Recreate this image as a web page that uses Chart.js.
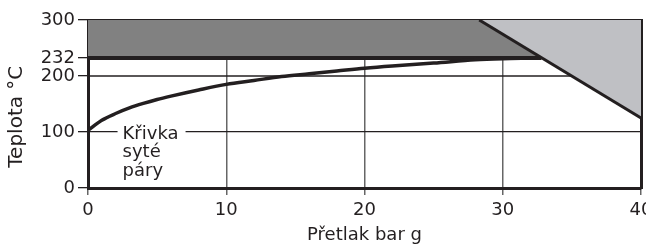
<!DOCTYPE html>
<html>
<head>
<meta charset="utf-8">
<script src="https://cdn.jsdelivr.net/npm/chart.js@4"></script>
<style>
  body { margin: 0; background: #fff; }
</style>
</head>
<body>
<canvas id="chart-1" width="646" height="246"></canvas>
<script>
// saturated steam curve (bar g -> °C)
const pressure = [0, 1, 2, 3, 4, 5, 6, 8, 10, 12, 14, 16, 18, 20, 22, 25, 28, 30, 32];
const satTemp = [103, 121, 133, 143, 151, 158, 164, 175, 185, 192, 199, 204, 209, 214, 218, 223, 229, 231, 232];

const xTicks = [0, 10, 20, 30, 40];
const yTicks = [0, 100, 200, 232, 300];

// upper limit 232 °C and the sloped pressure limit
const limitX = [0, 32.8];
const limitY = [232, 232];
const slopeX = [28.3, 40];
const slopeY = [300, 125];
const line200X = [0, 35];
const line200Y = [200, 200];

const curveLabel = ['Křivka', 'syté', 'páry'];
const curveLabelAt = [2.5, 100];

const ink = '#231f20';
const font = 'DejaVu Sans';

const pts = (xs, ys) => xs.map((x, i) => ({ x: x, y: ys[i] }));

const curveLabelPlugin = {
  id: 'curveLabel',
  afterDatasetsDraw(chart) {
    const { ctx, scales: { x, y } } = chart;
    const left = x.getPixelForValue(curveLabelAt[0]);
    const mid = y.getPixelForValue(curveLabelAt[1]);
    ctx.save();
    ctx.font = '18px "' + font + '"';
    const w = Math.max(...curveLabel.map(t => ctx.measureText(t).width));
    ctx.fillStyle = '#fff';
    ctx.fillRect(left - 5, mid - 10, w + 12, 56);
    ctx.fillStyle = ink;
    ctx.textBaseline = 'alphabetic';
    curveLabel.forEach((t, i) => ctx.fillText(t, left, mid + 6.5 + i * 18.5));
    ctx.restore();
  }
};

const ctx = document.getElementById('chart-1');

new Chart(ctx, {
  type: 'line',
  data: {
    datasets: [
      {
        data: pts(pressure, satTemp),
        borderColor: ink,
        borderWidth: 3.5,
        cubicInterpolationMode: 'monotone',
        pointRadius: 0,
        fill: false,
        order: 1
      },
      {
        data: pts(line200X, line200Y),
        borderColor: ink,
        borderWidth: 1.3,
        pointRadius: 0,
        fill: false,
        order: 2
      },
      {
        data: pts(slopeX, slopeY),
        borderColor: ink,
        borderWidth: 3,
        backgroundColor: '#bfc0c4',
        pointRadius: 0,
        fill: { value: 300 },
        order: 3
      },
      {
        data: pts(limitX, limitY),
        borderColor: ink,
        borderWidth: 4,
        backgroundColor: '#818181',
        pointRadius: 0,
        fill: { value: 300 },
        order: 4
      }
    ]
  },
  options: {
    responsive: false,
    animation: false,
    layout: { padding: { top: 20, right: 5, left: 0, bottom: 0 } },
    plugins: {
      legend: { display: false },
      tooltip: { enabled: false }
    },
    scales: {
      x: {
        type: 'linear',
        min: 0,
        max: 40,
        afterBuildTicks: s => { s.ticks = xTicks.map(v => ({ value: v })); },
        afterFit: s => { s.height = 58; s.paddingRight = 0; },
        ticks: { font: { family: font, size: 18 }, color: ink, padding: 5, maxRotation: 0, autoSkip: false },
        grid: { color: '#666', lineWidth: 1.5, tickColor: '#666', tickLength: 7 },
        border: { color: ink, width: 3 },
        title: { display: true, text: 'Přetlak bar g', font: { family: font, size: 18 }, color: ink, padding: 0 }
      },
      y: {
        min: 0,
        max: 300,
        afterBuildTicks: s => { s.ticks = yTicks.map(v => ({ value: v })); },
        afterFit: s => { s.width = 88; },
        ticks: { font: { family: font, size: 18 }, color: ink, padding: 3, autoSkip: false },
        grid: {
          color: c => (c.tick && c.tick.value === 100 ? ink : 'rgba(0,0,0,0)'),
          lineWidth: 1.3,
          tickColor: ink,
          tickLength: 10
        },
        border: { color: ink, width: 3 },
        title: { display: true, text: 'Teplota °C    ', font: { family: font, size: 20 }, color: ink, padding: { top: 5, bottom: 0 } }
      },
      x2: {
        type: 'linear',
        position: 'top',
        min: 0,
        max: 40,
        afterFit: s => { s.height = 0; },
        ticks: { display: false },
        grid: { drawOnChartArea: false, drawTicks: false },
        border: { color: ink, width: 2.5 }
      },
      y2: {
        position: 'right',
        min: 0,
        max: 300,
        afterFit: s => { s.width = 0; },
        ticks: { display: false },
        grid: { drawOnChartArea: false, drawTicks: false },
        border: { color: ink, width: 3 }
      }
    }
  },
  plugins: [curveLabelPlugin]
});
</script>
</body>
</html>
